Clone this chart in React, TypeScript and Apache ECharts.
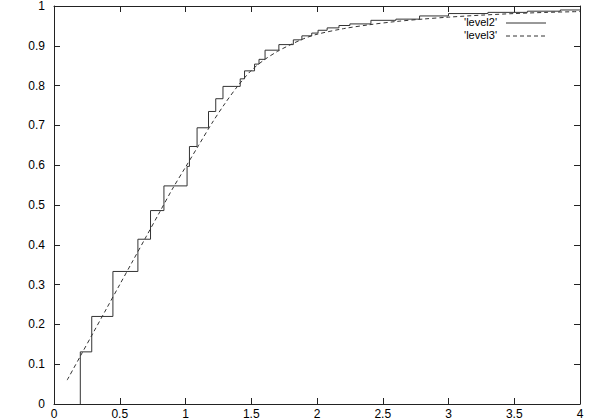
import React, { useEffect, useRef } from "react";
import * as echarts from "echarts";

// 'level2' empirical step function: [x where the step happens, new level]
const level2X = [0.2, 0.2, 0.287, 0.448, 0.638, 0.734, 0.836, 1.012, 1.03, 1.088, 1.175, 1.23, 1.285, 1.416, 1.449, 1.525, 1.559, 1.605, 1.71, 1.82, 1.885, 1.96, 2.008, 2.077, 2.167, 2.25, 2.41, 2.6, 2.78, 3.0, 3.3, 3.6, 3.85, 4.0];
const level2Y = [0, 0.131, 0.22, 0.333, 0.414, 0.486, 0.548, 0.597, 0.647, 0.694, 0.735, 0.767, 0.798, 0.817, 0.837, 0.854, 0.866, 0.889, 0.903, 0.915, 0.925, 0.932, 0.939, 0.945, 0.951, 0.955, 0.964, 0.967, 0.975, 0.981, 0.984, 0.987, 0.99, 0.99];

// 'level3' smooth curve
const level3X = [0.1, 0.2, 0.3, 0.4, 0.5, 0.6, 0.7, 0.8, 0.9, 1.0, 1.1, 1.2, 1.3, 1.4, 1.5, 1.6, 1.7, 1.8, 1.9, 2.0, 2.2, 2.4, 2.6, 2.8, 3.0, 3.25, 3.5, 3.75, 4.0];
const level3Y = [0.06, 0.12, 0.18, 0.24, 0.3, 0.36, 0.42, 0.48, 0.54, 0.595, 0.65, 0.705, 0.755, 0.8, 0.838, 0.865, 0.886, 0.903, 0.918, 0.929, 0.943, 0.953, 0.961, 0.967, 0.972, 0.977, 0.981, 0.984, 0.986];

const seriesNames = ["'level2'", "'level3'"];

const FONT = "'Liberation Sans', Arial, Helvetica, sans-serif";
const INK = "#222";

export default function App() {
  const ref = useRef<HTMLDivElement>(null);
  useEffect(() => {
    if (!ref.current) return;
    const chart = echarts.init(ref.current, null, { renderer: "svg" });
    const gridL = 54, gridR = 19, gridT = 6, gridB = 15;
    const xAxisBase = {
      type: "value" as const,
      min: 0,
      max: 4,
      interval: 0.5,
      splitLine: { show: false },
      axisLine: { show: true, onZero: false, lineStyle: { color: INK, width: 1 } },
      axisTick: { show: true, inside: true, length: 6, lineStyle: { color: INK } },
    };
    const yAxisBase = {
      type: "value" as const,
      min: 0,
      max: 1,
      interval: 0.1,
      splitLine: { show: false },
      axisLine: { show: true, onZero: false, lineStyle: { color: INK, width: 1 } },
      axisTick: { show: true, inside: true, length: 6, lineStyle: { color: INK } },
    };
    const labelStyle = { color: "#000", fontFamily: FONT, fontSize: 12 };
    chart.setOption({
      animation: false,
      backgroundColor: "#fff",
      grid: { left: gridL, right: gridR, top: gridT, bottom: gridB, containLabel: false },
      xAxis: [
        {
          ...xAxisBase,
          position: "bottom",
          axisLabel: { ...labelStyle, margin: 4, formatter: (v: number) => String(v) },
        },
        { ...xAxisBase, position: "top", axisLabel: { show: false } },
      ],
      yAxis: [
        {
          ...yAxisBase,
          position: "left",
          axisLabel: { ...labelStyle, margin: 9, formatter: (v: number) => String(Math.round(v * 10) / 10) },
        },
        { ...yAxisBase, position: "right", axisLabel: { show: false } },
      ],
      series: [
        {
          name: seriesNames[0],
          type: "line",
          step: "end",
          showSymbol: false,
          symbol: "none",
          lineStyle: { color: "#333", width: 1 },
          data: level2X.map((x, i) => [x, level2Y[i]]),
        },
        {
          name: seriesNames[1],
          type: "line",
          showSymbol: false,
          symbol: "none",
          smooth: 0.3,
          lineStyle: { color: "#333", width: 1, type: [4, 3] },
          data: level3X.map((x, i) => [x, level3Y[i]]),
        },
      ],
      graphic: [
        { type: "text", right: 599 - 497, top: 16, style: { text: seriesNames[0], font: `11px ${FONT}`, fill: "#000", textAlign: "right" } },
        { type: "line", shape: { x1: 506, y1: 23, x2: 546, y2: 23 }, style: { stroke: "#333", lineWidth: 1 } },
        { type: "text", right: 599 - 497, top: 29, style: { text: seriesNames[1], font: `11px ${FONT}`, fill: "#000", textAlign: "right" } },
        { type: "line", shape: { x1: 506, y1: 36, x2: 546, y2: 36 }, style: { stroke: "#333", lineWidth: 1, lineDash: [4, 3] } },
      ],
    });
    return () => chart.dispose();
  }, []);
  return <div ref={ref} style={{ position: "fixed", left: 0, top: 0, width: 599, height: 420 }} />;
}
